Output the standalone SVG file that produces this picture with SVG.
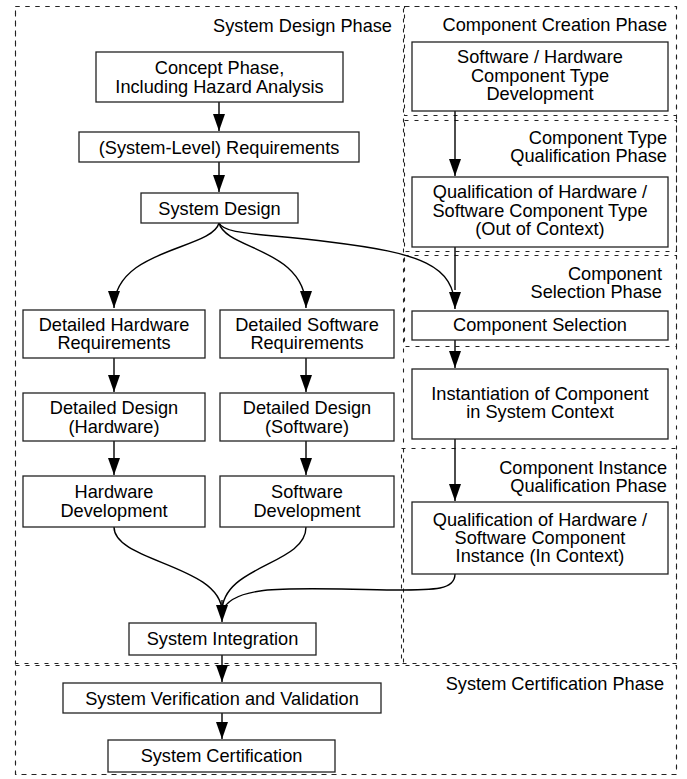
<svg xmlns="http://www.w3.org/2000/svg" width="687" height="779" viewBox="0 0 687 779">
<style>
text{font-family:"Liberation Sans",Arial,sans-serif;font-size:18.2px;fill:#000}
.c{text-anchor:middle}
.r{text-anchor:end}
.box{fill:#fff;stroke:#222;stroke-width:1.3}
.phase{fill:none;stroke:#222;stroke-width:1.1;stroke-dasharray:4,6}
.edge{fill:none;stroke:#000;stroke-width:1.4}
</style>
<defs>
<marker id="ah" viewBox="0 0 17 12" refX="17" refY="6" markerWidth="17" markerHeight="12" markerUnits="userSpaceOnUse" orient="auto">
<path d="M0,0 L17,6 L0,12 z" fill="#000"/>
</marker>
</defs>
<rect width="687" height="779" fill="#fff"/>
<g id="phases">
<rect class="phase" x="15.5" y="6.5" width="661" height="768"/>
<rect class="phase" x="15.5" y="6.5" width="388" height="657"/>
<rect class="phase" x="404.5" y="6.5" width="272" height="109"/>
<rect class="phase" x="404.5" y="120.5" width="272" height="131"/>
<rect class="phase" x="404.5" y="255.5" width="272" height="91"/>
<rect class="phase" x="401.5" y="448.5" width="275" height="215"/>
<rect class="phase" x="15.5" y="665.5" width="661" height="109"/>
<text class="r" x="392" y="31.5">System Design Phase</text>
<text class="r" x="667" y="31">Component Creation Phase</text>
<text class="r" x="667" y="143.5">Component Type</text>
<text class="r" x="667" y="162">Qualification Phase</text>
<text class="r" x="662" y="279.5">Component</text>
<text class="r" x="662" y="298">Selection Phase</text>
<text class="r" x="667" y="473.5">Component Instance</text>
<text class="r" x="667" y="492">Qualification Phase</text>
<text class="r" x="664" y="689.5">System Certification Phase</text>
</g>
<g id="connectors">
<path class="edge" d="M219,102 L219,131" marker-end="url(#ah)"/>
<path class="edge" d="M219,162 L219,192" marker-end="url(#ah)"/>
<path class="edge" d="M219,223 C212,250 114,248 114,308" marker-end="url(#ah)"/>
<path class="edge" d="M219,223 C226,250 306,248 306,308" marker-end="url(#ah)"/>
<path class="edge" d="M219,223 C225,235 260,233 330,242 C420,253 455,265 455,309" marker-end="url(#ah)"/>
<path class="edge" d="M114,358 L114,392" marker-end="url(#ah)"/>
<path class="edge" d="M114,441 L114,475" marker-end="url(#ah)"/>
<path class="edge" d="M306,358 L306,392" marker-end="url(#ah)"/>
<path class="edge" d="M306,441 L306,475" marker-end="url(#ah)"/>
<path class="edge" d="M455,111 L455,176" marker-end="url(#ah)"/>
<path class="edge" d="M455,247 L455,290"/>
<path class="edge" d="M455,340 L455,368" marker-end="url(#ah)"/>
<path class="edge" d="M455,439 L455,501" marker-end="url(#ah)"/>
<path class="edge" d="M114,527 C114,562 222,565 222,612"/>
<path class="edge" d="M306,527 C306,565 222,565 222,612"/>
<path class="edge" d="M455,574 C455,590 435,590 395,590 C300,589 232,582 222,612"/>
<path class="edge" d="M222,600 L222,622" marker-end="url(#ah)"/>
<path class="edge" d="M222,655 L222,682" marker-end="url(#ah)"/>
<path class="edge" d="M222,713 L222,739" marker-end="url(#ah)"/>
</g>
<g id="concept">
<rect class="box" x="96" y="52" width="247" height="50"/>
<text class="c" x="219.5" y="74">Concept Phase,</text>
<text class="c" x="219.5" y="92.5">Including Hazard Analysis</text>
</g>
<g id="sysreq">
<rect class="box" x="79" y="132" width="280" height="30"/>
<text class="c" x="219" y="153.5">(System-Level) Requirements</text>
</g>
<g id="sysdesign">
<rect class="box" x="141" y="193" width="157" height="30"/>
<text class="c" x="219.5" y="214.5">System Design</text>
</g>
<g id="dhr">
<rect class="box" x="23" y="310" width="182" height="48"/>
<text class="c" x="114" y="330.7">Detailed Hardware</text>
<text class="c" x="114" y="349.2">Requirements</text>
</g>
<g id="dsr">
<rect class="box" x="220" y="310" width="174" height="48"/>
<text class="c" x="307" y="330.7">Detailed Software</text>
<text class="c" x="307" y="349.2">Requirements</text>
</g>
<g id="ddh">
<rect class="box" x="23" y="393" width="182" height="48"/>
<text class="c" x="114" y="414">Detailed Design</text>
<text class="c" x="114" y="432.5">(Hardware)</text>
</g>
<g id="dds">
<rect class="box" x="220" y="393" width="174" height="48"/>
<text class="c" x="307" y="414">Detailed Design</text>
<text class="c" x="307" y="432.5">(Software)</text>
</g>
<g id="hwdev">
<rect class="box" x="23" y="476" width="182" height="51"/>
<text class="c" x="114" y="498.3">Hardware</text>
<text class="c" x="114" y="516.7">Development</text>
</g>
<g id="swdev">
<rect class="box" x="220" y="476" width="174" height="51"/>
<text class="c" x="307" y="498.3">Software</text>
<text class="c" x="307" y="516.7">Development</text>
</g>
<g id="sysint">
<rect class="box" x="129" y="623" width="187" height="32"/>
<text class="c" x="222.5" y="645">System Integration</text>
</g>
<g id="vv">
<rect class="box" x="63" y="683" width="318" height="30"/>
<text class="c" x="222" y="705">System Verification and Validation</text>
</g>
<g id="cert">
<rect class="box" x="108" y="740" width="227" height="32"/>
<text class="c" x="221.5" y="762">System Certification</text>
</g>
<g id="typedev">
<rect class="box" x="412" y="42" width="256" height="69"/>
<text class="c" x="540" y="63.3">Software / Hardware</text>
<text class="c" x="540" y="81.7">Component Type</text>
<text class="c" x="540" y="100">Development</text>
</g>
<g id="typequal">
<rect class="box" x="412" y="177" width="256" height="70"/>
<text class="c" x="540" y="198.3">Qualification of Hardware /</text>
<text class="c" x="540" y="216.7">Software Component Type</text>
<text class="c" x="540" y="235.1">(Out of Context)</text>
</g>
<g id="compsel">
<rect class="box" x="412" y="311" width="256" height="29"/>
<text class="c" x="540" y="331">Component Selection</text>
</g>
<g id="inst">
<rect class="box" x="412" y="369" width="256" height="70"/>
<text class="c" x="540" y="400">Instantiation of Component</text>
<text class="c" x="540" y="418.4">in System Context</text>
</g>
<g id="instqual">
<rect class="box" x="412" y="502" width="256" height="72"/>
<text class="c" x="540" y="525.5">Qualification of Hardware /</text>
<text class="c" x="540" y="543.9">Software Component</text>
<text class="c" x="540" y="562.3">Instance (In Context)</text>
</g>
</svg>
